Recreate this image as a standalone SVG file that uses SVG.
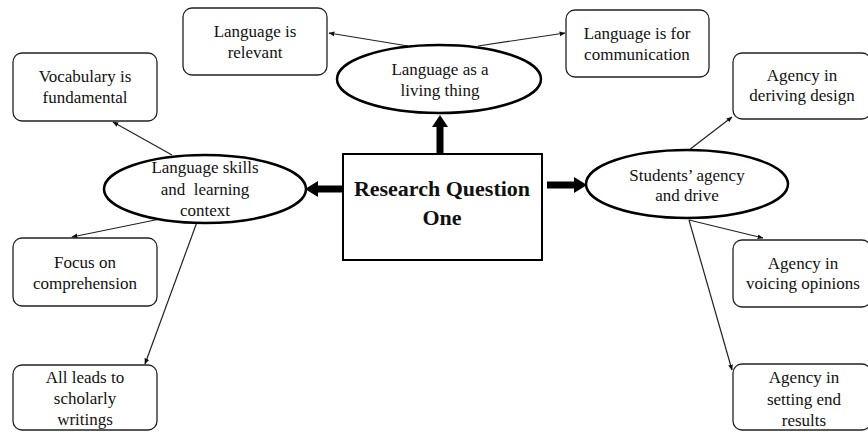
<svg xmlns="http://www.w3.org/2000/svg" width="868" height="432" viewBox="0 0 868 432">
  <defs>
    <marker id="tip" viewBox="0 0 10 10" refX="9" refY="5" markerWidth="6" markerHeight="6" markerUnits="userSpaceOnUse" orient="auto">
      <path d="M0,1 L10,5 L0,9 z" fill="#111"/>
    </marker>
    <style>
      .box { fill: #fff; stroke: #222; stroke-width: 1.3; }
      .oval { fill: #fff; stroke: #000; stroke-width: 2.5; }
      .main { fill: #fff; stroke: #000; stroke-width: 2; }
      .t { font-family: "Liberation Serif", "Times New Roman", serif; font-size: 17px; fill: #111; text-anchor: middle; }
      .tb { font-family: "Liberation Serif", "Times New Roman", serif; font-size: 22px; font-weight: bold; fill: #111; text-anchor: middle; }
      .link { stroke: #222; stroke-width: 1.2; fill: none; marker-end: url(#tip); }
      .thick { fill: #000; }
    </style>
  </defs>
  <rect width="868" height="432" fill="#fff"/>

  <!-- connectors -->
  <g id="connectors">
    <line class="link" x1="408" y1="46" x2="329" y2="33"/>
    <line class="link" x1="478" y1="46" x2="565" y2="33"/>
    <line class="link" x1="172" y1="155" x2="113" y2="122"/>
    <line class="link" x1="160" y1="219" x2="72" y2="237"/>
    <line class="link" x1="197" y1="222" x2="145" y2="364"/>
    <line class="link" x1="689" y1="150" x2="732" y2="117"/>
    <line class="link" x1="689" y1="220" x2="763" y2="238"/>
    <line class="link" x1="689" y1="220" x2="732" y2="370"/>
    <!-- bold arrows out of the central box -->
    <rect class="thick" x="436.5" y="126" width="7" height="29"/>
    <polygon class="thick" points="432,127 448,127 440,115"/>
    <rect class="thick" x="317" y="185.5" width="26" height="7"/>
    <polygon class="thick" points="318,181 318,197 305,189"/>
    <rect class="thick" x="547" y="181.5" width="28" height="7"/>
    <polygon class="thick" points="574,177 574,193 587,185"/>
  </g>

  <!-- central node -->
  <g id="research-question">
    <rect class="main" x="343" y="154" width="199" height="106"/>
    <text class="tb" x="442" y="196">Research Question</text>
    <text class="tb" x="442" y="225">One</text>
  </g>

  <!-- themes -->
  <g id="theme-living">
    <ellipse class="oval" cx="439" cy="79" rx="102" ry="34"/>
    <text class="t" x="440" y="75">Language as a</text>
    <text class="t" x="440" y="96">living thing</text>
  </g>
  <g id="theme-skills">
    <ellipse class="oval" cx="205" cy="189" rx="101" ry="34"/>
    <text class="t" x="205" y="173">Language skills</text>
    <text class="t" x="205" y="195" xml:space="preserve">and  learning</text>
    <text class="t" x="205" y="216">context</text>
  </g>
  <g id="theme-agency">
    <ellipse class="oval" cx="687" cy="184" rx="101" ry="34"/>
    <text class="t" x="687" y="181">Students’ agency</text>
    <text class="t" x="687" y="201">and drive</text>
  </g>

  <!-- sub-points -->
  <g id="relevant">
    <rect class="box" x="183" y="8" width="144" height="67" rx="9"/>
    <text class="t" x="255" y="37">Language is</text>
    <text class="t" x="255" y="58">relevant</text>
  </g>
  <g id="communication">
    <rect class="box" x="566" y="10" width="143" height="67" rx="9"/>
    <text class="t" x="637" y="39">Language is for</text>
    <text class="t" x="637" y="60">communication</text>
  </g>
  <g id="vocabulary">
    <rect class="box" x="13" y="53" width="144" height="68" rx="9"/>
    <text class="t" x="85" y="82">Vocabulary is</text>
    <text class="t" x="85" y="103">fundamental</text>
  </g>
  <g id="comprehension">
    <rect class="box" x="13" y="238" width="144" height="68" rx="9"/>
    <text class="t" x="85" y="268">Focus on</text>
    <text class="t" x="85" y="289">comprehension</text>
  </g>
  <g id="scholarly">
    <rect class="box" x="13" y="365" width="144" height="65" rx="9"/>
    <text class="t" x="85" y="383">All leads to</text>
    <text class="t" x="85" y="404">scholarly</text>
    <text class="t" x="85" y="425">writings</text>
  </g>
  <g id="design">
    <rect class="box" x="733" y="53" width="138" height="66" rx="9"/>
    <text class="t" x="802" y="81">Agency in</text>
    <text class="t" x="802" y="101">deriving design</text>
  </g>
  <g id="opinions">
    <rect class="box" x="733" y="240" width="138" height="67" rx="9"/>
    <text class="t" x="803" y="269">Agency in</text>
    <text class="t" x="803" y="289">voicing opinions</text>
  </g>
  <g id="results">
    <rect class="box" x="733" y="364" width="138" height="66" rx="9"/>
    <text class="t" x="804" y="383">Agency in</text>
    <text class="t" x="804" y="405">setting end</text>
    <text class="t" x="804" y="426">results</text>
  </g>
</svg>
